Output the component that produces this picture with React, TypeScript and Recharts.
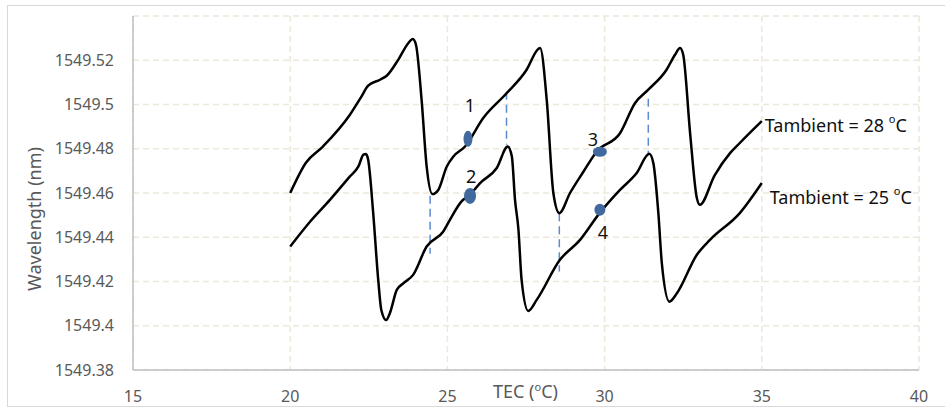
import React from 'react';
import { ComposedChart, Line, Scatter, XAxis, YAxis, CartesianGrid, ReferenceLine } from 'recharts';

// TEC temperature (x) and wavelength (y)
const tec28 = [20, 20.5, 21.04, 21.9, 22.27, 22.48, 22.86, 23.07, 23.44, 23.76, 23.9, 24.0, 24.18, 24.34, 24.52, 24.71, 24.98, 25.19, 25.56, 26.14, 26.89, 27.52, 27.89, 27.95, 28.16, 28.37, 28.56, 28.9, 29.33, 29.75, 30.49, 30.97, 31.39, 31.97, 32.24, 32.4, 32.5, 32.72, 32.93, 33.03, 33.5, 33.99, 34.3, 35];
const wl28 = [1549.46, 1549.4737, 1549.481, 1549.4954, 1549.5037, 1549.5085, 1549.5112, 1549.513, 1549.5203, 1549.5278, 1549.5296, 1549.527, 1549.502, 1549.472, 1549.4595, 1549.4614, 1549.472, 1549.4765, 1549.481, 1549.4939, 1549.5052, 1549.5157, 1549.5251, 1549.5255, 1549.502, 1549.46, 1549.4509, 1549.46, 1549.4697, 1549.4788, 1549.487, 1549.5007, 1549.5067, 1549.5157, 1549.5225, 1549.5255, 1549.5225, 1549.487, 1549.458, 1549.4547, 1549.468, 1549.478, 1549.4826, 1549.4925];

const tec25 = [20, 20.63, 21.27, 21.9, 22.17, 22.33, 22.41, 22.48, 22.64, 22.8, 22.9, 23.05, 23.17, 23.39, 23.6, 23.91, 24.34, 24.87, 25.08, 25.45, 25.72, 26.04, 26.57, 26.92, 27.05, 27.15, 27.26, 27.36, 27.57, 27.84, 28.58, 29.22, 29.84, 30.49, 31.02, 31.42, 31.55, 31.71, 31.82, 32.06, 32.3, 32.93, 33.35, 34.3, 35];
const wl25 = [1549.4358, 1549.447, 1549.457, 1549.4675, 1549.472, 1549.4773, 1549.4776, 1549.475, 1549.4509, 1549.4207, 1549.407, 1549.4026, 1549.4057, 1549.4162, 1549.4192, 1549.423, 1549.4358, 1549.4426, 1549.4479, 1549.4562, 1549.4592, 1549.4645, 1549.4713, 1549.481, 1549.4765, 1549.457, 1549.4434, 1549.4207, 1549.4067, 1549.4117, 1549.4298, 1549.4388, 1549.4509, 1549.4614, 1549.469, 1549.4777, 1549.4735, 1549.4509, 1549.4283, 1549.4109, 1549.4147, 1549.432, 1549.4388, 1549.4509, 1549.4645];

// dashed guides: x, top y, bottom y
const guideX = [24.45, 26.88, 28.56, 31.39];
const guideTop = [1549.4588, 1549.5058, 1549.4509, 1549.5026];
const guideBottom = [1549.4325, 1549.4818, 1549.4245, 1549.4773];

// numbered operating points
const pointIds = ['1', '2', '3', '4'];
const pointX = [25.655, 25.72, 29.85, 29.85];
const pointY = [1549.4845, 1549.4587, 1549.4786, 1549.4524];

const seriesNames = ['Tambient = 28', 'Tambient = 25'];

const xTicks = [15, 20, 25, 30, 35, 40];
const yTicks = [1549.38, 1549.4, 1549.42, 1549.44, 1549.46, 1549.48, 1549.5, 1549.52];

const zip = (xs: number[], ys: number[]) => xs.map((x, i) => ({ x, y: ys[i] }));
const data28 = zip(tec28, wl28);
const data25 = zip(tec25, wl25);
const points = pointIds.map((id, i) => ({ id, x: pointX[i], y: pointY[i] }));
const endLabels = [
  { id: 0, name: seriesNames[0], x: tec28[tec28.length - 1], y: wl28[wl28.length - 1] },
  { id: 1, name: seriesNames[1], x: tec25[tec25.length - 1], y: wl25[wl25.length - 1] },
];

const FONT = '"Noto Sans", sans-serif';
const MARKER = '#41699E';
// ellipse size and label offset per numbered point
const markerStyle = [
  { rx: 4.5, ry: 8, dx: 2, dy: -34 },
  { rx: 6, ry: 8, dx: 1, dy: -20 },
  { rx: 7, ry: 5, dx: -7, dy: -13 },
  { rx: 5.5, ry: 6, dx: 3, dy: 22 },
];
const endLabelOffset = [{ dx: 3, dy: 4 }, { dx: 8, dy: 14 }];

const PointShape = (props: any) => {
  const { cx, cy, payload } = props;
  const s = markerStyle[pointIds.indexOf(payload.id)];
  return (
    <g>
      <ellipse cx={cx} cy={cy} rx={s.rx} ry={s.ry} fill={MARKER} />
      <text x={cx + s.dx} y={cy + s.dy} textAnchor="middle" dominantBaseline="central" fontFamily={FONT} fontSize={18} fill="#111">
        {payload.id}
      </text>
    </g>
  );
};

const EndLabel = (props: any) => {
  const { cx, cy, payload } = props;
  const o = endLabelOffset[payload.id];
  return (
    <text x={cx + o.dx} y={cy + o.dy} dominantBaseline="central" fontFamily={FONT} fontSize={18} fill="#111">
      {payload.name} <tspan fontSize={11} dy={-7}>o</tspan><tspan dy={7}>C</tspan>
    </text>
  );
};

const XLabel = (props: any) => {
  const { viewBox } = props;
  return (
    <text x={viewBox.x + 360} y={viewBox.y + 28} fontFamily={FONT} fontSize={18} fill="#595959">
      TEC (<tspan fontSize={11} dy={-7}>o</tspan><tspan dy={7}>C)</tspan>
    </text>
  );
};

const YLabel = (props: any) => {
  const { viewBox } = props;
  const x = viewBox.x + 34;
  const y = viewBox.y + viewBox.height / 2 + 26;
  return (
    <text x={x} y={y} transform={`rotate(-90 ${x} ${y})`} textAnchor="middle" dominantBaseline="central" fontFamily={FONT} fontSize={18} fill="#595959">
      Wavelength (nm)
    </text>
  );
};

const fmt = (v: number) => String(parseFloat(v.toFixed(2)));

export default function App() {
  return (
    <div style={{ position: 'absolute', left: 0, top: 0, width: 945, height: 407, background: '#fff', overflow: 'hidden' }}>
      <div style={{ position: 'absolute', left: 7, top: 5, width: 960, height: 400, border: '1px solid #d9d9d9' }} />
      <div style={{ position: 'absolute', left: 0, top: 0 }}>
        <ComposedChart width={945} height={407} margin={{ top: 16, right: 26, bottom: 7, left: 0 }}>
          <CartesianGrid stroke="#ECE8DA" strokeWidth={1.5} strokeDasharray="6 4" />
          <XAxis
            type="number"
            dataKey="x"
            domain={[15, 40]}
            ticks={xTicks}
            height={30}
            tickLine={false}
            tickSize={19}
            axisLine={{ stroke: '#BFBFBF', strokeWidth: 1.5 }}
            tick={{ fontFamily: FONT, fontSize: 16, fill: '#595959' }}
            label={<XLabel />}
            allowDataOverflow
          />
          <YAxis
            type="number"
            dataKey="y"
            domain={[1549.38, 1549.54]}
            ticks={yTicks}
            width={133}
            tickLine={false}
            tickSize={17}
            tickFormatter={fmt}
            axisLine={{ stroke: '#BFBFBF', strokeWidth: 1.5 }}
            tick={{ fontFamily: FONT, fontSize: 16, fill: '#595959' }}
            label={<YLabel />}
            allowDataOverflow
          />
          {guideX.map((gx, i) => (
            <ReferenceLine
              key={i}
              segment={[{ x: gx, y: guideTop[i] }, { x: gx, y: guideBottom[i] }]}
              stroke="#5B8BD0"
              strokeWidth={1.5}
              strokeDasharray="8 5"
            />
          ))}
          <Line data={data28} dataKey="y" type="monotone" stroke="#000" strokeWidth={2.5} dot={false} isAnimationActive={false} />
          <Line data={data25} dataKey="y" type="monotone" stroke="#000" strokeWidth={2.5} dot={false} isAnimationActive={false} />
          <Scatter data={points} dataKey="y" shape={PointShape} isAnimationActive={false} />
          <Scatter data={endLabels} dataKey="y" shape={EndLabel} isAnimationActive={false} />
        </ComposedChart>
      </div>
    </div>
  );
}
